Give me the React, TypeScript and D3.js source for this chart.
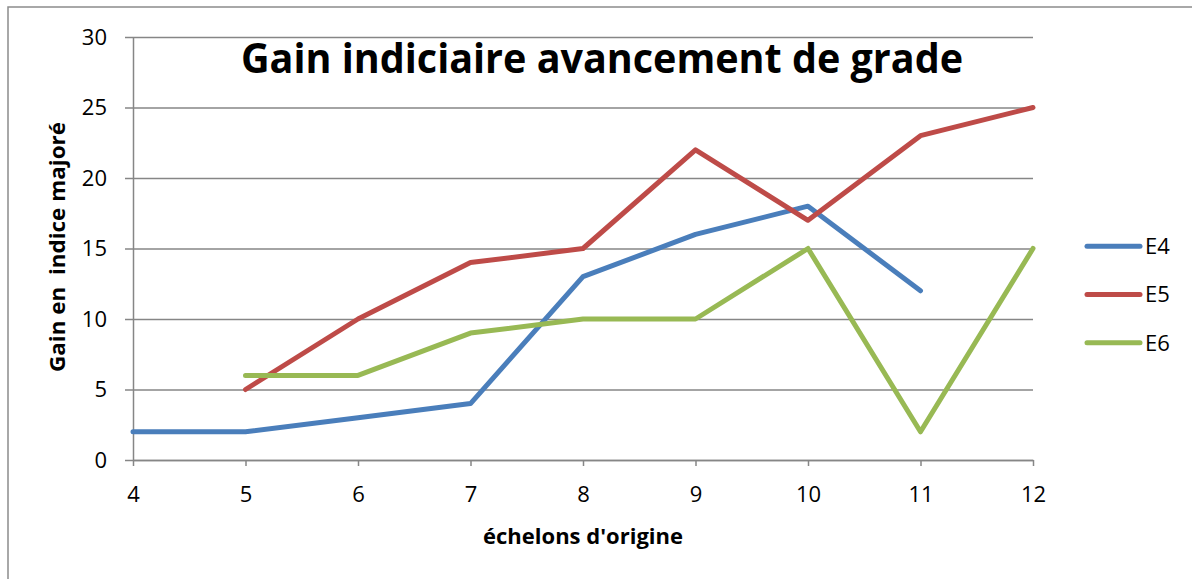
import React, { useEffect, useRef } from "react";
import * as d3 from "d3";

// chart data
const echelons = [4, 5, 6, 7, 8, 9, 10, 11, 12];
const e4 = [2, 2, 3, 4, 13, 16, 18, 12, null];
const e5 = [null, 5, 10, 14, 15, 22, 17, 23, 25];
const e6 = [null, 6, 6, 9, 10, 10, 15, 2, 15];
const yTicks = [0, 5, 10, 15, 20, 25, 30];
const seriesNames = ["E4", "E5", "E6"];
const colors = ["#4a7ebb", "#be4b48", "#98b954"];

const width = 1192;
const height = 579;
const marginLeft = 133;
const marginRight = 159;
const marginTop = 37;
const marginBottom = 119;
const font = "'Open Sans', sans-serif";

const App: React.FC = () => {
  const svgRef = useRef<SVGSVGElement>(null);

  useEffect(() => {
    if (!svgRef.current) return;
    const svg = d3.select(svgRef.current);
    svg.selectAll("*").remove();

    const x = d3
      .scaleLinear()
      .domain([4, 12])
      .range([marginLeft, width - marginRight]);
    const y = d3
      .scaleLinear()
      .domain([0, 30])
      .range([height - marginBottom, marginTop]);

    // outer chart border
    svg
      .append("rect")
      .attr("x", 8)
      .attr("y", 7)
      .attr("width", width)
      .attr("height", height)
      .attr("fill", "none")
      .attr("stroke", "#8c8c8c")
      .attr("stroke-width", 1.5);

    // horizontal grid lines
    svg
      .append("g")
      .attr("transform", `translate(${marginLeft},0)`)
      .call(
        d3
          .axisLeft(y)
          .tickValues(yTicks)
          .tickSize(-(width - marginLeft - marginRight))
          //@ts-ignore
          .tickFormat("")
      )
      .call((g) => g.select(".domain").remove())
      .call((g) =>
        g.selectAll(".tick line").attr("stroke", "#868686").attr("stroke-width", 1.5)
      );

    // y axis with ticks and labels
    svg
      .append("g")
      .attr("transform", `translate(${marginLeft},0)`)
      .call(d3.axisLeft(y).tickValues(yTicks).tickSize(8).tickSizeOuter(0).tickPadding(18))
      .call((g) => g.select(".domain").attr("stroke", "#868686").attr("stroke-width", 1.5))
      .call((g) => g.selectAll(".tick line").attr("stroke", "#868686").attr("stroke-width", 1.5))
      .call((g) =>
        g
          .selectAll(".tick text")
          .attr("font-family", font)
          .attr("font-size", 22)
          .attr("fill", "#000")
      );

    // x axis
    svg
      .append("g")
      .attr("transform", `translate(0,${height - marginBottom})`)
      .call(d3.axisBottom(x).tickValues(echelons).tickSize(6).tickSizeOuter(0).tickPadding(20))
      .call((g) => g.select(".domain").attr("stroke", "#868686").attr("stroke-width", 1.5))
      .call((g) => g.selectAll(".tick line").attr("stroke", "#868686").attr("stroke-width", 1.5))
      .call((g) =>
        g
          .selectAll(".tick text")
          .attr("font-family", font)
          .attr("font-size", 22)
          .attr("fill", "#000")
      );

    // lines
    const allSeries = [e4, e5, e6];
    const line = d3
      .line<number | null>()
      .defined((d) => d !== null)
      .x((d, i) => x(echelons[i]))
      .y((d) => y(d as number));

    allSeries.forEach((s, i) => {
      svg
        .append("path")
        .datum(s)
        .attr("fill", "none")
        .attr("stroke", colors[i])
        .attr("stroke-width", 5)
        .attr("stroke-linejoin", "round")
        .attr("stroke-linecap", "round")
        .attr("d", line);
    });

    // title
    svg
      .append("text")
      .attr("x", 602)
      .attr("y", 73)
      .attr("text-anchor", "middle")
      .attr("font-family", font)
      .attr("font-weight", "bold")
      .attr("font-size", 41)
      .attr("textLength", 722)
      .attr("lengthAdjust", "spacingAndGlyphs")
      .text("Gain indiciaire avancement de grade");

    // axis titles
    svg
      .append("text")
      .attr("x", 583)
      .attr("y", 544)
      .attr("text-anchor", "middle")
      .attr("font-family", font)
      .attr("font-weight", "bold")
      .attr("font-size", 21)
      .attr("textLength", 200)
      .attr("lengthAdjust", "spacingAndGlyphs")
      .text("échelons d'origine");

    svg
      .append("text")
      .attr("transform", `translate(65,247) rotate(-90)`)
      .attr("text-anchor", "middle")
      .attr("font-family", font)
      .attr("font-weight", "bold")
      .attr("font-size", 21)
      .attr("textLength", 250)
      .attr("lengthAdjust", "spacingAndGlyphs")
      .attr("xml:space", "preserve")
      .style("white-space", "pre")
      .text("Gain en  indice majoré");

    // legend
    const legend = d3
      .scaleBand()
      .domain(seriesNames)
      .range([222, 367]);

    seriesNames.forEach((name, i) => {
      const cy = (legend(name) || 0) + legend.bandwidth() / 2;
      svg
        .append("line")
        .attr("x1", 1087)
        .attr("x2", 1140)
        .attr("y1", cy)
        .attr("y2", cy)
        .attr("stroke", colors[i])
        .attr("stroke-width", 5)
        .attr("stroke-linecap", "round");
      svg
        .append("text")
        .attr("x", 1145)
        .attr("y", cy)
        .attr("dy", "0.36em")
        .attr("font-family", font)
        .attr("font-size", 22)
        .text(name);
    });
  }, []);

  return (
    <svg
      ref={svgRef}
      width={width}
      height={height}
      style={{ position: "absolute", left: 0, top: 0, background: "#fff" }}
    />
  );
};

export default App;
